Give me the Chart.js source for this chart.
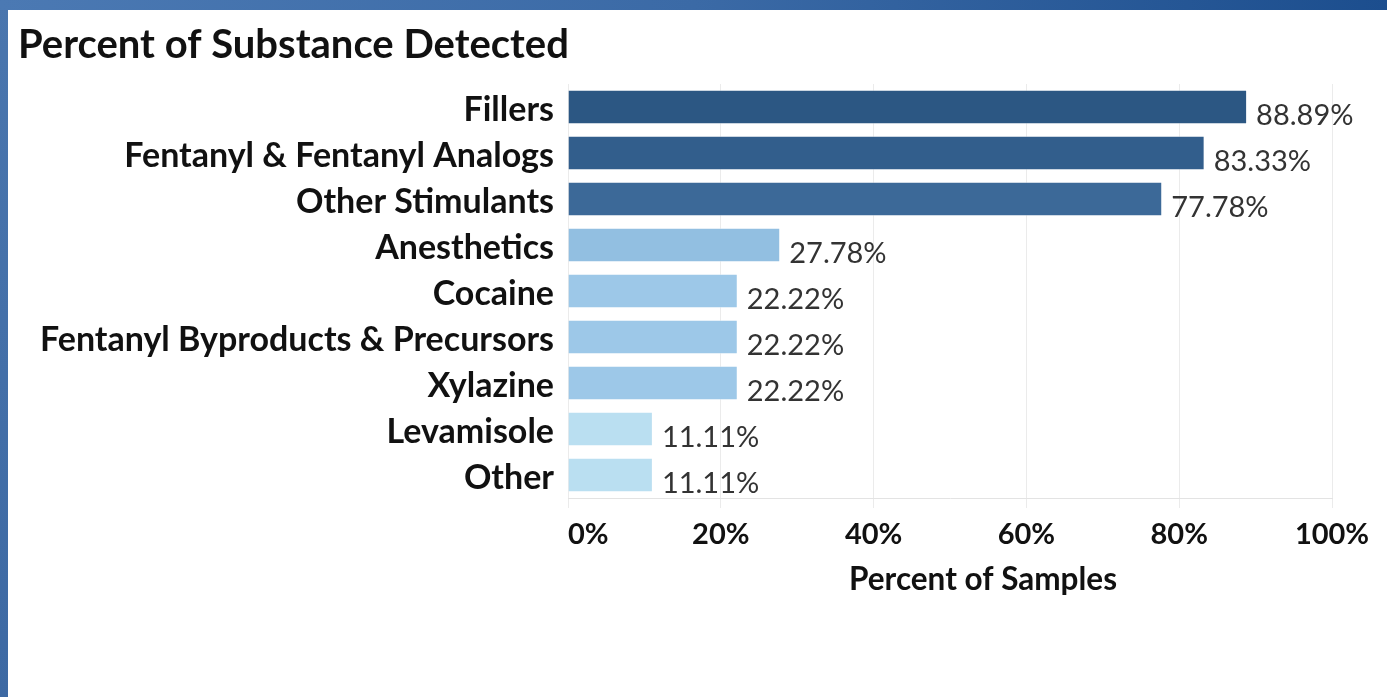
<!DOCTYPE html>
<html>
<head>
<meta charset="utf-8">
<script src="https://cdn.jsdelivr.net/npm/chart.js@4.4.1/dist/chart.umd.min.js"></script>
<style>
  html, body { margin: 0; padding: 0; }
  body {
    width: 1387px; height: 697px; overflow: hidden; position: relative;
    background: linear-gradient(to bottom, #4a76ae, #3d69a3);
  }
  #topbar {
    position: absolute; left: 0; top: 0; width: 1387px; height: 10px;
    background: linear-gradient(to right, #4b79b3, #3b6aa6 50%, #1c4e8e);
  }
  #panel {
    position: absolute; left: 8px; top: 10px; width: 1379px; height: 687px;
    background: #fff;
  }
</style>
</head>
<body>
<div id="topbar"></div>
<div id="panel"><canvas id="chart" width="1379" height="687"></canvas></div>
<script>
  const categories = [
    'Fillers',
    'Fentanyl & Fentanyl Analogs',
    'Other Stimulants',
    'Anesthetics',
    'Cocaine',
    'Fentanyl Byproducts & Precursors',
    'Xylazine',
    'Levamisole',
    'Other',
  ];
  const percentDetected = [88.89, 83.33, 77.78, 27.78, 22.22, 22.22, 22.22, 11.11, 11.11];
  const barColors = [
    '#2c5783', '#325e8c', '#3c6998',
    '#92bfe1', '#9dc8e8', '#9dc8e8', '#9dc8e8',
    '#badff1', '#badff1',
  ];
  const xTicks = [0, 20, 40, 60, 80, 100];
  const xTitle = 'Percent of Samples';

  const textDark = '#111';

  // value labels sit just right of each bar, baseline on the bar bottom
  const valueLabels = {
    id: 'valueLabels',
    afterDatasetsDraw(chart) {
      const { ctx } = chart;
      const meta = chart.getDatasetMeta(0);
      ctx.save();
      ctx.font = '29px Lato';
      ctx.fillStyle = '#333';
      ctx.textAlign = 'left';
      ctx.textBaseline = 'alphabetic';
      meta.data.forEach((bar, i) => {
        const v = chart.data.datasets[0].data[i];
        ctx.fillText(v.toFixed(2) + '%', bar.x + 9, bar.y + bar.height / 2 + 1);
      });
      ctx.restore();
    },
  };

  // x tick labels (first one left aligned like the original) and axis title
  const xAxisText = {
    id: 'xAxisText',
    afterDraw(chart) {
      const { ctx, chartArea } = chart;
      const x = chart.scales.x;
      ctx.save();
      ctx.fillStyle = textDark;
      ctx.textBaseline = 'middle';
      ctx.font = 'bold 29px Lato';
      xTicks.forEach((t, i) => {
        ctx.textAlign = i === 0 ? 'left' : 'center';
        ctx.fillText(t + '%', x.getPixelForValue(t), chartArea.bottom + 37);
      });
      ctx.font = 'bold 31.5px Lato';
      ctx.textAlign = 'center';
      ctx.fillText(xTitle, (chartArea.left + chartArea.right) / 2 + 33, chartArea.bottom + 82);
      ctx.restore();
    },
  };

  new Chart(document.getElementById('chart'), {
    type: 'bar',
    data: {
      labels: categories,
      datasets: [
        {
          data: percentDetected,
          backgroundColor: barColors,
          borderColor: 'rgba(255,255,255,0.45)',
          borderWidth: 1,
          barPercentage: 0.75,
          categoryPercentage: 1,
        },
      ],
    },
    options: {
      indexAxis: 'y',
      responsive: false,
      animation: false,
      layout: {
        padding: { left: 10, right: 55, top: 0, bottom: 139 },
      },
      plugins: {
        legend: { display: false },
        tooltip: { enabled: false },
        title: {
          display: true,
          text: 'Percent of Substance Detected',
          align: 'start',
          color: textDark,
          font: { family: 'Lato', size: 40, weight: 'bold' },
          padding: { top: 11, bottom: 15 },
        },
      },
      scales: {
        x: {
          min: 0,
          max: 100,
          afterBuildTicks(scale) {
            scale.ticks = xTicks.map((v) => ({ value: v }));
          },
          afterFit(scale) {
            scale.height = 60;
          },
          ticks: { display: false },
          grid: {
            color: '#ebebeb',
            lineWidth: 1,
            drawTicks: true,
            tickLength: 10,
          },
          border: { display: true, color: '#e3e3e3' },
        },
        y: {
          afterFit(scale) {
            scale.width = 550;
          },
          grid: { display: false },
          border: { display: false },
          ticks: {
            padding: 6,
            labelOffset: 3,
            color: textDark,
            font: { family: 'Lato', size: 34, weight: 'bold' },
          },
        },
      },
    },
    plugins: [valueLabels, xAxisText],
  });
</script>
</body>
</html>
